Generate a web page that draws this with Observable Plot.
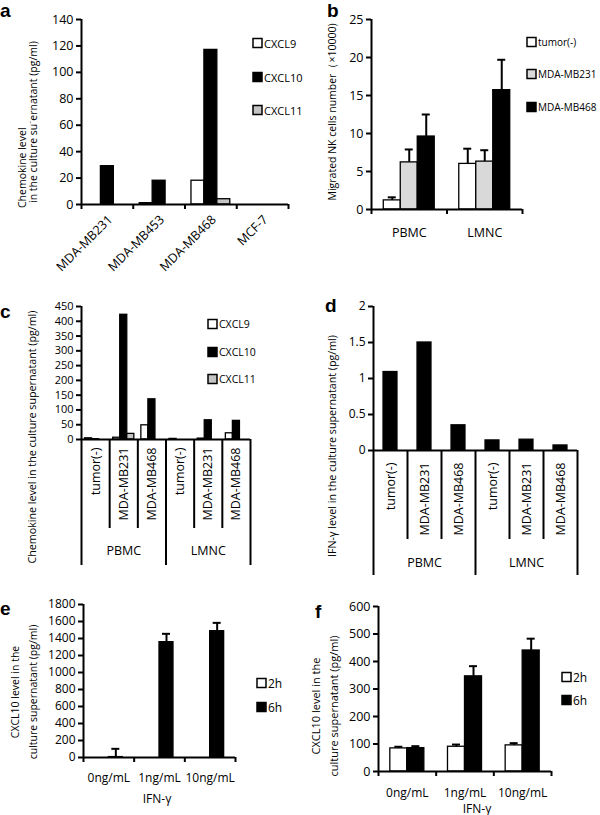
<!DOCTYPE html>
<html><head><meta charset="utf-8">
<script src="https://cdn.jsdelivr.net/npm/d3@7"></script>
<script src="https://cdn.jsdelivr.net/npm/@observablehq/plot@0.6"></script>
<style>
body{margin:0;background:#fff}
#fig{position:relative;width:600px;height:815px;overflow:hidden;font-family:"Open Sans",sans-serif}
#fig svg{position:absolute}
</style></head><body><div id="fig"></div>
<script>
// ---------- data ----------
// panel a
const aCells = ["MDA-MB231","MDA-MB453","MDA-MB468","MCF-7"];
const aSeries = ["CXCL9","CXCL10","CXCL11"];
const aCXCL9  = [0, 1, 18, 0];
const aCXCL10 = [29, 18, 117, 0];
const aCXCL11 = [0, 0, 4, 0];
const aYTicks = [0,20,40,60,80,100,120,140];
const aYLabel = ["Chemokine level", "in the  culture su", "\u2013", "ernatant (pg/ml)"];
// panel b
const bCells = ["PBMC","LMNC"];
const bSeries = ["tumor(-)","MDA-MB231","MDA-MB468"];
const bTumor = [1.2, 6.0],  bTumorErr = [0.4, 2.0];
const bMB231 = [6.2, 6.3],  bMB231Err = [1.7, 1.5];
const bMB468 = [9.6, 15.7], bMB468Err = [2.9, 4.0];
const bYTicks = [0,5,10,15,20,25];
const bYLabel = "Migrated NK cells number\uFF08\u00D710000)";
// panels c, d
const cdGroups = ["PBMC","LMNC"];
const cdSubs = ["tumor(-)","MDA-MB231","MDA-MB468","tumor(-)","MDA-MB231","MDA-MB468"];
const cSeries = ["CXCL9","CXCL10","CXCL11"];
const cCXCL9  = [4, 6, 48, 2, 3, 21];
const cCXCL10 = [1, 422, 136, 0, 65, 63];
const cCXCL11 = [0, 19, 0, 0, 0, 0];
const cYTicks = [0,50,100,150,200,250,300,350,400,450];
const cYLabel = "Chemokine level in the culture supernatant (pg/ml)";
const dIFNg = [1.09, 1.50, 0.35, 0.14, 0.15, 0.07];
const dYTicks = [0,0.5,1,1.5,2];
const dYLabel = "IFN-\u03B3 level in the culture supernatant (pg/ml)";
// panels e, f
const efDoses = ["0ng/mL","1ng/mL","10ng/mL"];
const efSeries = ["2h","6h"];
const efXLabel = "IFN-\u03B3";
const efYLabel = ["CXCL10  level in the", "culture supernatant (pg/ml)"];
const e2h = [0, 0, 0];
const e6h = [5, 1357, 1486], e6hErr = [97, 98, 98];
const eYTicks = [0,200,400,600,800,1000,1200,1400,1600,1800];
const f2h = [84, 90, 95],   f2hErr = [6, 8, 8];
const f6h = [85, 346, 440], f6hErr = [7, 37, 43];
const fYTicks = [0,100,200,300,400,500,600];

// ---------- helpers ----------
const fig = document.getElementById("fig");
const GRAY = "#c4c4c4", LGRAY = "#d9d9d9";

function panel(o) {
  const n = o.cats.length;
  const m = o.series.length;
  const marks = [];
  o.series.forEach((s, k) => {
    const x1 = (d, i) => i + 0.5 + (k - m / 2) * o.bw;
    const cx = (d, i) => i + 0.5 + (k - m / 2 + 0.5) * o.bw;
    marks.push(Plot.rect(o.cats, {x1, x2: (d, i) => x1(d, i) + o.bw, y1: 0, y2: (d, i) => s.values[i],
      fill: s.fill, stroke: "#000", strokeWidth: 1.3}));
    if (s.err) {
      marks.push(Plot.ruleX(o.cats, {x: cx, y1: (d, i) => s.values[i], y2: (d, i) => s.values[i] + s.err[i], strokeWidth: 2}));
      marks.push(Plot.ruleY(o.cats, {y: (d, i) => s.values[i] + s.err[i], x1: cx, x2: cx, insetLeft: -4, insetRight: -4, strokeWidth: 2}));
    }
  });
  marks.push(Plot.ruleY([0], {strokeWidth: 2}));
  marks.push(Plot.ruleX([0], {strokeWidth: 2}));
  marks.push(Plot.axisY({ticks: o.yticks, tickSize: 5, tickPadding: 3, strokeWidth: 2, fontSize: o.tickFont || 12.5,
    tickFormat: d => String(d), label: null}));
  const bounds = d3.range(n + 1);
  if (o.hier) {
    marks.push(Plot.ruleX(bounds.filter(b => b % 3 !== 0), {x: d => d, y1: 0, y2: 0, insetBottom: -o.hier.short, strokeWidth: 2}));
    marks.push(Plot.ruleX(bounds.filter(b => b % 3 === 0), {x: d => d, y1: 0, y2: 0, insetBottom: -o.hier.long, strokeWidth: 2}));
    marks.push(Plot.text(o.cats, {x: (d, i) => i + 0.5, y: 0, text: d => d, rotate: -90, textAnchor: "end", dy: o.labelDy, fontSize: 12.5}));
    marks.push(Plot.text(o.groups, {x: (d, i) => i * 3 + 1.5, y: 0, text: d => d, dy: o.hier.groupDy, fontSize: 12.5}));
  } else {
    marks.push(Plot.ruleX(bounds, {x: d => d, y1: 0, y2: 0, insetBottom: -5, strokeWidth: 2}));
    marks.push(Plot.text(o.cats, {x: (d, i) => i + 0.5, y: 0, text: d => d, dy: o.labelDy, dx: o.labelDx || 0,
      rotate: o.labelRotate || 0, textAnchor: o.labelRotate ? "end" : "middle", fontSize: o.labelFont || 12.5}));
  }
  const svg = Plot.plot({
    width: o.width, height: o.height,
    marginTop: o.mt, marginRight: o.mr, marginBottom: o.mb, marginLeft: o.ml,
    x: {domain: [0, n], axis: null},
    y: {domain: [0, o.ymax]},
    style: {background: "transparent", overflow: "visible", fontFamily: "'Open Sans', sans-serif", fontSize: "12px", color: "#000"},
    marks
  });
  svg.style.left = o.left + "px";
  svg.style.top = o.top + "px";
  fig.appendChild(svg);
}

// a
panel({left: 0, top: 0, width: 300, height: 290, mt: 19, mr: 12, mb: 86, ml: 81,
  cats: aCells, ymax: 140, yticks: aYTicks, bw: 0.25,
  series: [{values: aCXCL9, fill: "#fff"}, {values: aCXCL10, fill: "#000"}, {values: aCXCL11, fill: GRAY}],
  labelRotate: -45, labelDx: 3, labelDy: 13});
// b
panel({left: 300, top: 0, width: 300, height: 290, mt: 19, mr: 78, mb: 81, ml: 71,
  cats: bCells, ymax: 25, yticks: bYTicks, bw: 0.225,
  series: [{values: bTumor, err: bTumorErr, fill: "#fff"}, {values: bMB231, err: bMB231Err, fill: LGRAY}, {values: bMB468, err: bMB468Err, fill: "#000"}],
  labelDy: 23});
// c
panel({left: 0, top: 290, width: 300, height: 290, mt: 16, mr: 50, mb: 141, ml: 81,
  cats: cdSubs, groups: cdGroups, ymax: 450, yticks: cYTicks, bw: 0.25, tickFont: 11,
  series: [{values: cCXCL9, fill: "#fff"}, {values: cCXCL10, fill: "#000"}, {values: cCXCL11, fill: GRAY}],
  labelDy: 8, hier: {short: 89, long: 126, groupDy: 111}});
// d
panel({left: 300, top: 290, width: 300, height: 290, mt: 16, mr: 23, mb: 130, ml: 73,
  cats: cdSubs, groups: cdGroups, ymax: 2, yticks: dYTicks, bw: 0.41, tickFont: 12,
  series: [{values: dIFNg, fill: "#000"}],
  labelDy: 12, hier: {short: 89, long: 125, groupDy: 112}});
// e
panel({left: 0, top: 590, width: 300, height: 225, mt: 14, mr: 65, mb: 58, ml: 83,
  cats: efDoses, ymax: 1800, yticks: eYTicks, bw: 0.276, tickFont: 12,
  series: [{values: e2h, fill: "#fff"}, {values: e6h, err: e6hErr, fill: "#000"}],
  labelDy: 21, labelFont: 12});
// f
panel({left: 300, top: 590, width: 300, height: 225, mt: 16, mr: 49, mb: 44, ml: 78,
  cats: efDoses, ymax: 600, yticks: fYTicks, bw: 0.295,
  series: [{values: f2h, err: f2hErr, fill: "#fff"}, {values: f6h, err: f6hErr, fill: "#000"}],
  labelDy: 22, labelFont: 12});

// ---------- overlay: panel letters, axis titles, legends ----------
const ov = d3.select(fig).append("svg").attr("width", 600).attr("height", 815)
  .style("left", "0px").style("top", "0px").style("overflow", "visible")
  .attr("font-family", "'Open Sans', sans-serif");

[["a", 0, 17], ["b", 327, 17], ["c", 0, 318], ["d", 325, 312], ["e", 0, 615], ["f", 315, 618]].forEach(([t, x, y]) =>
  ov.append("text").attr("x", x).attr("y", y).attr("font-family", "'Liberation Sans', Arial, sans-serif")
    .attr("font-weight", "bold").attr("font-size", 19).text(t));

function vlabel(text, cx, cy, size, anchor) {
  return ov.append("text").attr("transform", `translate(${cx},${cy}) rotate(-90)`)
    .attr("text-anchor", anchor || "middle").attr("dominant-baseline", "central")
    .attr("font-size", size).text(text);
}
vlabel(aYLabel[0], 22, 208, 10.5, "start");
const aL2 = vlabel(aYLabel[1], 33, 203, 10.5, "start");
aL2.append("tspan").attr("font-size", 6).attr("dy", -3).text(aYLabel[2]);
aL2.append("tspan").attr("dy", 3).text(aYLabel[3]);
vlabel(bYLabel, 332, 112, 10.5);
vlabel(cYLabel, 32, 437, 10.7);
vlabel(dYLabel, 332, 446, 10.7);
vlabel(efYLabel[0], 15, 692, 10.5);
vlabel(efYLabel[1], 33, 692, 10.5);
vlabel(efYLabel[0], 315, 706, 11);
vlabel(efYLabel[1], 333, 706, 11);

ov.append("text").attr("x", 157).attr("y", 798).attr("text-anchor", "middle").attr("dominant-baseline", "central").attr("font-size", 12).text(efXLabel);
ov.append("text").attr("x", 477).attr("y", 808).attr("text-anchor", "middle").attr("dominant-baseline", "central").attr("font-size", 12).text(efXLabel);

function legend(names, fills, x, ys, size) {
  names.forEach((nm, i) => {
    ov.append("rect").attr("x", x).attr("y", ys[i] - 4.5).attr("width", 9).attr("height", 9)
      .attr("fill", fills[i]).attr("stroke", "#000").attr("stroke-width", 1.5);
    ov.append("text").attr("x", x + 11).attr("y", ys[i]).attr("dominant-baseline", "central")
      .attr("font-size", size).text(nm);
  });
}
legend(aSeries, ["#fff", "#000", GRAY], 253, [43, 77, 110], 11);
legend(bSeries, ["#fff", LGRAY, "#000"], 527, [42, 74, 107], 10);
legend(cSeries, ["#fff", "#000", GRAY], 208, [324, 352, 379], 10.5);
legend(efSeries, ["#fff", "#000"], 257, [683, 707], 12);
legend(efSeries, ["#fff", "#000"], 562, [677, 700], 12);
</script></body></html>
